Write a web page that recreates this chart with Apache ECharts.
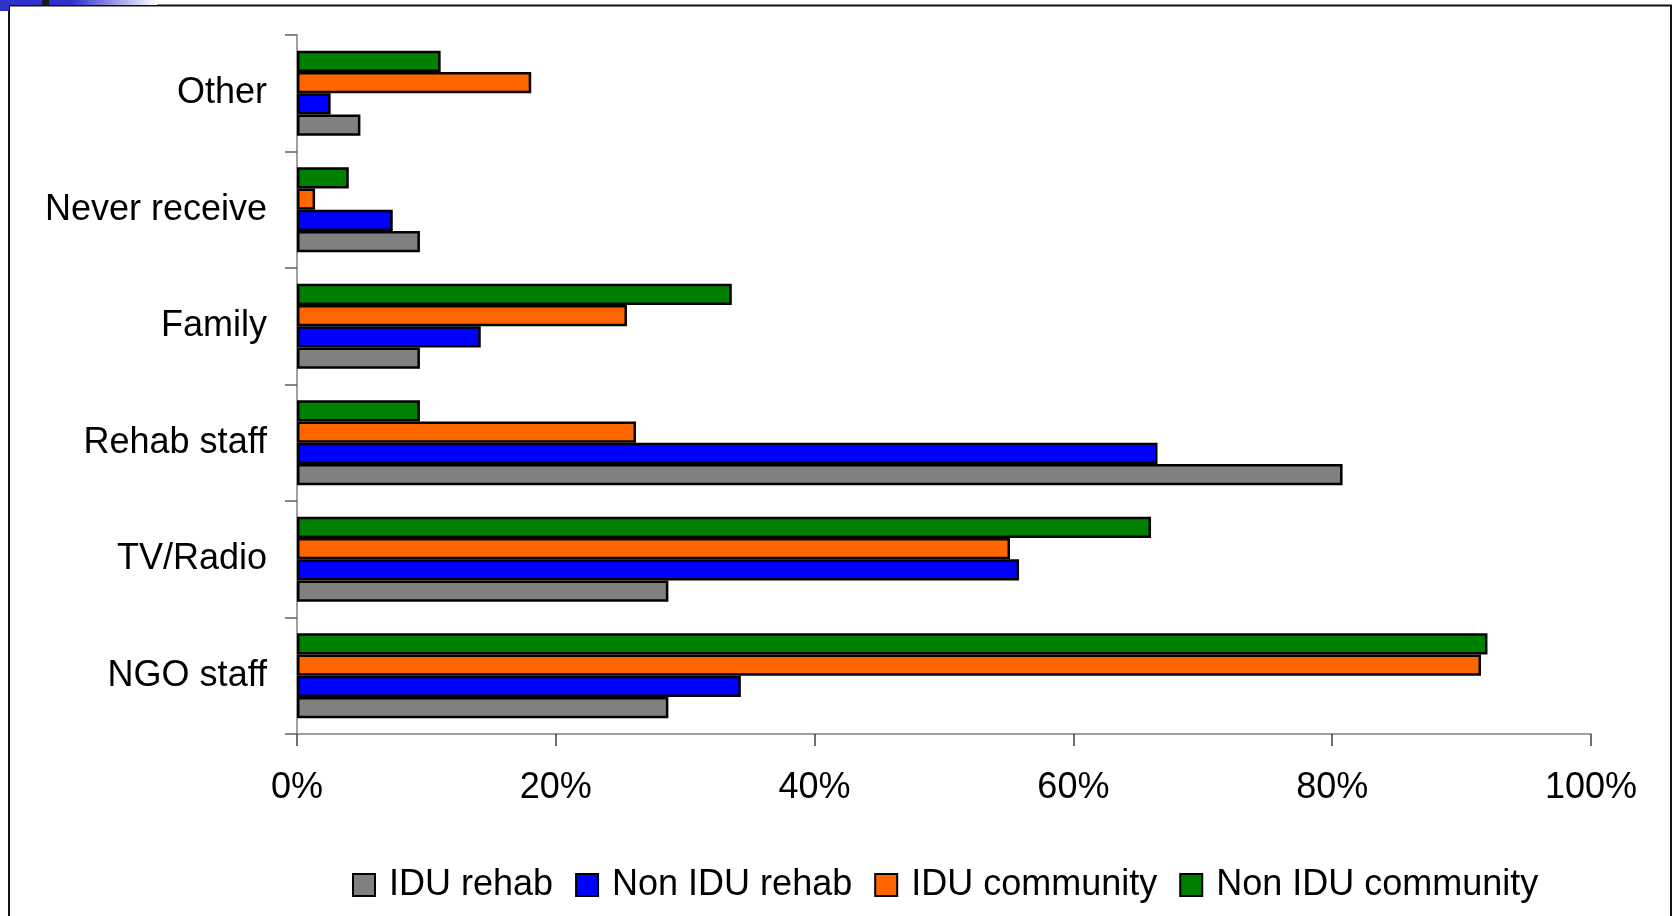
<!DOCTYPE html>
<html lang="en">
  <head>
    <meta charset="UTF-8" />
    <title>Sources of information</title>
    <style>
      html, body { margin: 0; padding: 0; background: #fff; }
      #main { width: 1674px; height: 916px; }
    </style>
  </head>
  <body>
    <script src="https://cdn.jsdelivr.net/npm/echarts@6/dist/echarts.min.js"></script>
    <div id="main"></div>
    <script>
      // categories bottom -> top
      const categories = ['NGO staff', 'TV/Radio', 'Rehab staff', 'Family', 'Never receive', 'Other']
      const xTicks = [0, 20, 40, 60, 80, 100]

      // percentages
      const idu_rehab = [28.7, 28.7, 80.8, 9.5, 9.5, 4.9]
      const non_idu_rehab = [34.3, 55.8, 66.5, 14.2, 7.4, 2.6]
      const idu_community = [91.5, 55.1, 26.2, 25.5, 1.4, 18.1]
      const non_idu_community = [92.0, 66.0, 9.5, 33.6, 4.0, 11.1]

      const font = '"Liberation Sans", Arial, sans-serif'
      const chart = echarts.init(document.getElementById('main'))

      const bar = (name, data, color) => ({
        name,
        type: 'bar',
        data,
        barGap: '0%',
        barCategoryGap: '27%',
        itemStyle: { color, borderColor: '#000', borderWidth: 2.5 },
        emphasis: { disabled: true }
      })

      chart.setOption({
        animation: false,
        grid: { left: 297, top: 35, right: 83, bottom: 182, containLabel: false },
        xAxis: {
          type: 'value',
          min: 0,
          max: 100,
          interval: 20,
          axisLine: { show: true, lineStyle: { color: '#808080', width: 1.5 } },
          axisTick: { show: true, length: 12, lineStyle: { color: '#404040', width: 1.5 } },
          splitLine: { show: false },
          axisLabel: {
            margin: 36,
            fontSize: 36,
            fontFamily: font,
            color: '#000',
            formatter: v => (xTicks.includes(v) ? v + '%' : '')
          }
        },
        yAxis: {
          type: 'category',
          data: categories,
          axisLine: { show: true, lineStyle: { color: '#808080', width: 1.5 } },
          axisTick: { show: true, length: 12, lineStyle: { color: '#606060', width: 1.5 } },
          axisLabel: { margin: 30, fontSize: 36, fontFamily: font, color: '#000' }
        },
        legend: {
          left: 347,
          top: 862,
          icon: 'rect',
          itemWidth: 22,
          itemHeight: 22,
          itemGap: 22,
          textStyle: { fontSize: 36, fontFamily: font, color: '#000', padding: [0, 0, 0, 9] },
          data: ['IDU rehab', 'Non IDU rehab', 'IDU community', 'Non IDU community']
        },
        // ECharts stacks the first series at the top of each band, so go top-down
        series: [
          bar('Non IDU community', non_idu_community, '#008000'),
          bar('IDU community', idu_community, '#ff6600'),
          bar('Non IDU rehab', non_idu_rehab, '#0000ff'),
          bar('IDU rehab', idu_rehab, '#808080')
        ],
        graphic: [
          { type: 'rect', shape: { x: 9, y: 5.5, width: 1662, height: 930 }, style: { fill: 'none', stroke: '#111', lineWidth: 2 }, silent: true },
          { type: 'rect', shape: { x: 0, y: 0, width: 9, height: 11 }, style: { fill: '#3030cc' }, silent: true },
          { type: 'rect', shape: { x: 0, y: 0, width: 72, height: 5 }, style: { fill: '#3030cc' }, silent: true },
          {
            type: 'rect',
            shape: { x: 72, y: 0, width: 85, height: 5 },
            style: { fill: new echarts.graphic.LinearGradient(0, 0, 1, 0, [{ offset: 0, color: '#3030cc' }, { offset: 1, color: '#ffffff' }]) },
            silent: true
          },
          { type: 'rect', shape: { x: 42, y: 0, width: 7, height: 5 }, style: { fill: '#1a1a1a' }, silent: true }
        ]
      })
    </script>
  </body>
</html>
